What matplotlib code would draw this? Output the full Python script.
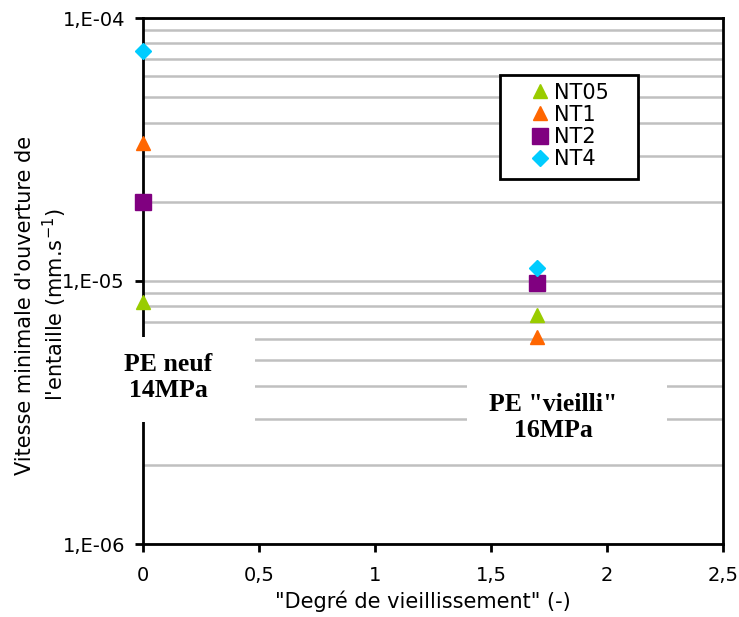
import matplotlib.pyplot as plt
from matplotlib.patches import Rectangle
from matplotlib.ticker import FixedLocator, LogLocator, NullFormatter

# valeurs
degre = [0, 1.7]
nt05 = [8.3e-6, 7.4e-6]
nt1 = [3.35e-5, 6.1e-6]
nt2 = [2.0e-5, 9.8e-6]
nt4 = [7.5e-5, 1.12e-5]

plt.rcParams['font.family'] = ['DejaVu Sans']

fig = plt.figure(figsize=(7.39, 6.17), dpi=100)
ax = fig.add_axes([143/739, 1-544/617, 580/739, 526/617])

ax.set_yscale('log')
ax.set_ylim(1e-6, 1e-4)
ax.set_xlim(0, 2.5)

# quadrillage horizontal gris
ax.yaxis.set_minor_locator(LogLocator(base=10, subs=range(1, 10)))
ax.yaxis.set_minor_formatter(NullFormatter())
ax.grid(True, which='both', axis='y', color='#c0c0c0', linewidth=1.8, zorder=0)
ax.tick_params(axis='y', which='minor', length=0)

ax.plot(degre, nt05, linestyle='none', marker='^', color='#99cc00', markersize=10, label='NT05', zorder=5, clip_on=False)
ax.plot(degre, nt1, linestyle='none', marker='^', color='#ff6600', markersize=10, label='NT1', zorder=5, clip_on=False)
ax.plot(degre, nt2, linestyle='none', marker='s', color='#800080', markersize=12, label='NT2', zorder=5, clip_on=False)
ax.plot(degre, nt4, linestyle='none', marker='D', color='#00ccff', markersize=8, label='NT4', zorder=5, clip_on=False)

ax.set_xticks([0, 0.5, 1, 1.5, 2, 2.5])
ax.set_xticklabels(['0', '0,5', '1', '1,5', '2', '2,5'])
ax.yaxis.set_major_locator(FixedLocator([1e-6, 1e-5, 1e-4]))
ax.set_yticklabels(['1,E-06', '1,E-05', '1,E-04'])
ax.tick_params(axis='both', which='major', labelsize=14, width=2, length=6, direction='out')
ax.tick_params(axis='x', pad=10)
ax.tick_params(axis='y', pad=7)

for s in ax.spines.values():
    s.set_linewidth(2)

ax.set_xlabel('"Degré de vieillissement" (-)', fontsize=15)
ax.xaxis.set_label_coords(0.483, -0.088)
ax.set_ylabel("Vitesse minimale d'ouverture de\nl'entaille (mm.s$^{-1}$)", fontsize=15, linespacing=1.25)
ax.yaxis.set_label_coords(-0.128, 0.454)

# cadres blancs derrière les annotations
ax.add_patch(Rectangle((-0.107, 0.232), 0.300, 0.162, transform=ax.transAxes,
                       facecolor='white', edgecolor='none', zorder=3.5, clip_on=False))
ax.add_patch(Rectangle((0.559, 0.169), 0.344, 0.158, transform=ax.transAxes,
                       facecolor='white', edgecolor='none', zorder=3.5, clip_on=False))
ax.text(0.043, 0.316, 'PE neuf\n14MPa', transform=ax.transAxes, family='Liberation Serif',
        fontweight='bold', fontsize=18.5, ha='center', va='center', linespacing=1.15, zorder=4)
ax.text(0.707, 0.240, 'PE "vieilli"\n16MPa', transform=ax.transAxes, family='Liberation Serif',
        fontweight='bold', fontsize=18.5, ha='center', va='center', linespacing=1.15, zorder=4)

# légende avec cadre noir
ax.add_patch(Rectangle((0.616, 0.694), 0.238, 0.198, transform=ax.transAxes,
                       facecolor='white', edgecolor='black', linewidth=2, zorder=5.5))
leg = ax.legend(loc='upper left', bbox_to_anchor=(0.667, 0.877), fontsize=15,
                frameon=False, handletextpad=0.15, labelspacing=0.1,
                borderpad=0, handlelength=1.0, borderaxespad=0)
leg.set_zorder(6)

fig.savefig('out.png', dpi=100)
